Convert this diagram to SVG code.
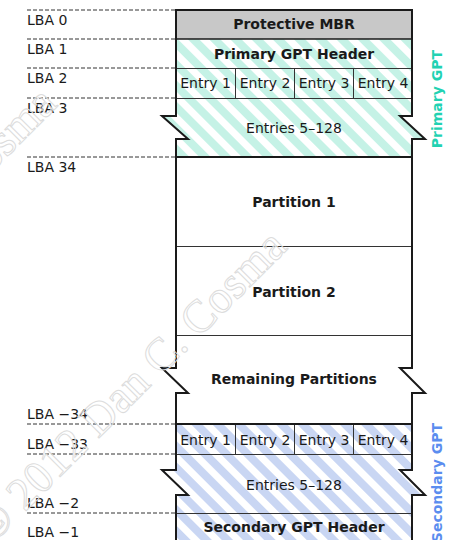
<svg xmlns="http://www.w3.org/2000/svg" width="457" height="540" viewBox="0 0 457 540">
<style>
text{font-family:"DejaVu Sans",Verdana,sans-serif;font-size:14px;fill:#1a1a1a}
.b{font-weight:bold}
.c{text-anchor:middle}
.e{text-anchor:end}
.lba{stroke:#333;stroke-width:1;stroke-dasharray:4 2;fill:none}
.out{stroke:#1a1a1a;stroke-width:2;fill:none;stroke-linejoin:miter}
.thin{stroke:#333;stroke-width:1;fill:none}
.wm{font-family:"Liberation Serif",serif;font-size:46px;fill:none;stroke:#dcdcdc;stroke-width:1}
</style>
<defs>
<pattern id="hp" width="15" height="15" patternUnits="userSpaceOnUse" patternTransform="rotate(-45)"><rect width="15" height="15" fill="#fff"/><rect width="8" height="15" fill="#c5f2e6"/></pattern>
<pattern id="hs" width="15" height="15" patternUnits="userSpaceOnUse" patternTransform="rotate(-45)"><rect width="15" height="15" fill="#fff"/><rect width="8" height="15" fill="#c9d6f3"/></pattern>
</defs>
<rect width="457" height="540" fill="#fff"/>

<g id="lba-markers">
<path class="lba" d="M27,10H176M27,39H176M27,68H176M27,98H176M27,157H176M27,424H176M27,454H176M27,513H176"/>
<text x="27" y="25">LBA 0</text>
<text x="27" y="54">LBA 1</text>
<text x="27" y="83">LBA 2</text>
<text x="27" y="113">LBA 3</text>
<text x="27" y="172">LBA 34</text>
<text x="27" y="419">LBA −34</text>
<text x="27" y="449">LBA −33</text>
<text x="27" y="508">LBA −2</text>
<text x="27" y="537">LBA −1</text>
</g>

<g id="protective-mbr">
<rect x="176" y="10" width="236" height="29" fill="#c8c8c8"/>
<text class="b c" x="294" y="29">Protective MBR</text>
</g>

<g id="primary-header">
<rect x="176" y="39" width="236" height="29" fill="url(#hp)"/>
<text class="b c" x="294" y="59">Primary GPT Header</text>
</g>

<g id="primary-entries">
<rect x="176" y="68" width="236" height="30" fill="url(#hp)"/>
<path class="thin" d="M235.5,68V98M294.5,68V98M353.5,68V98"/>
<text class="c" x="205.5" y="88">Entry 1</text>
<text class="c" x="265" y="88">Entry 2</text>
<text class="c" x="324" y="88">Entry 3</text>
<text class="c" x="383" y="88">Entry 4</text>
</g>

<g id="primary-array">
<path d="M176,98H412V116H400L425,139H412V157H176V139H188L162,116H176Z" fill="url(#hp)"/>
<text class="c" x="294" y="133">Entries 5–128</text>
</g>

<g id="partition-1">
<rect x="176" y="157" width="236" height="89" fill="#fff"/>
<text class="b c" x="294" y="207">Partition 1</text>
</g>

<g id="partition-2">
<rect x="176" y="246" width="236" height="89" fill="#fff"/>
<text class="b c" x="294" y="297">Partition 2</text>
</g>

<g id="remaining-partitions">
<path d="M176,335H412V368H400L425,393H412V424H176V393H188L162,368H176Z" fill="#fff"/>
<text class="b c" x="294" y="384">Remaining Partitions</text>
</g>

<g id="secondary-entries">
<rect x="176" y="424" width="236" height="30" fill="url(#hs)"/>
<path class="thin" d="M235.5,424V454M294.5,424V454M353.5,424V454"/>
<text class="c" x="205.5" y="445">Entry 1</text>
<text class="c" x="265" y="445">Entry 2</text>
<text class="c" x="324" y="445">Entry 3</text>
<text class="c" x="383" y="445">Entry 4</text>
</g>

<g id="secondary-array">
<path d="M176,454H412V470H400L425,495H412V513H176V495H188L162,470H176Z" fill="url(#hs)"/>
<text class="c" x="294" y="490">Entries 5–128</text>
</g>

<g id="secondary-header">
<rect x="176" y="513" width="236" height="30" fill="url(#hs)"/>
<text class="b c" x="294" y="532">Secondary GPT Header</text>
</g>

<g id="dividers">
<path class="thin" d="M176,68.5H412M176,98.5H412M176,246.5H412M176,335.5H412M176,454.5H412M176,513.5H412"/>
<path stroke="#1a1a1a" stroke-width="1.5" d="M176,39H412"/>
<path class="out" d="M175,10H413M176,157H412M176,424H412"/>
<path class="out" d="M176,9V116H162L188,139H176V368H162L188,393H176V470H162L188,495H176V545"/>
<path class="out" d="M412,9V116H400L425,139H412V368H400L425,393H412V470H400L425,495H412V545"/>
</g>

<g id="group-labels">
<text class="b e" transform="translate(441.5,50) rotate(-90)" style="fill:#22d2b2">Primary GPT</text>
<text class="b e" transform="translate(441.5,423) rotate(-90)" style="fill:#5b8def">Secondary GPT</text>
</g>

<g id="watermark">
<text class="wm" transform="translate(-8,545) rotate(-45)">© 2012 Dan C. Cosma</text>
<text class="wm" transform="translate(-238,402) rotate(-45)">© 2012 Dan C. Cosma</text>
</g>
</svg>
